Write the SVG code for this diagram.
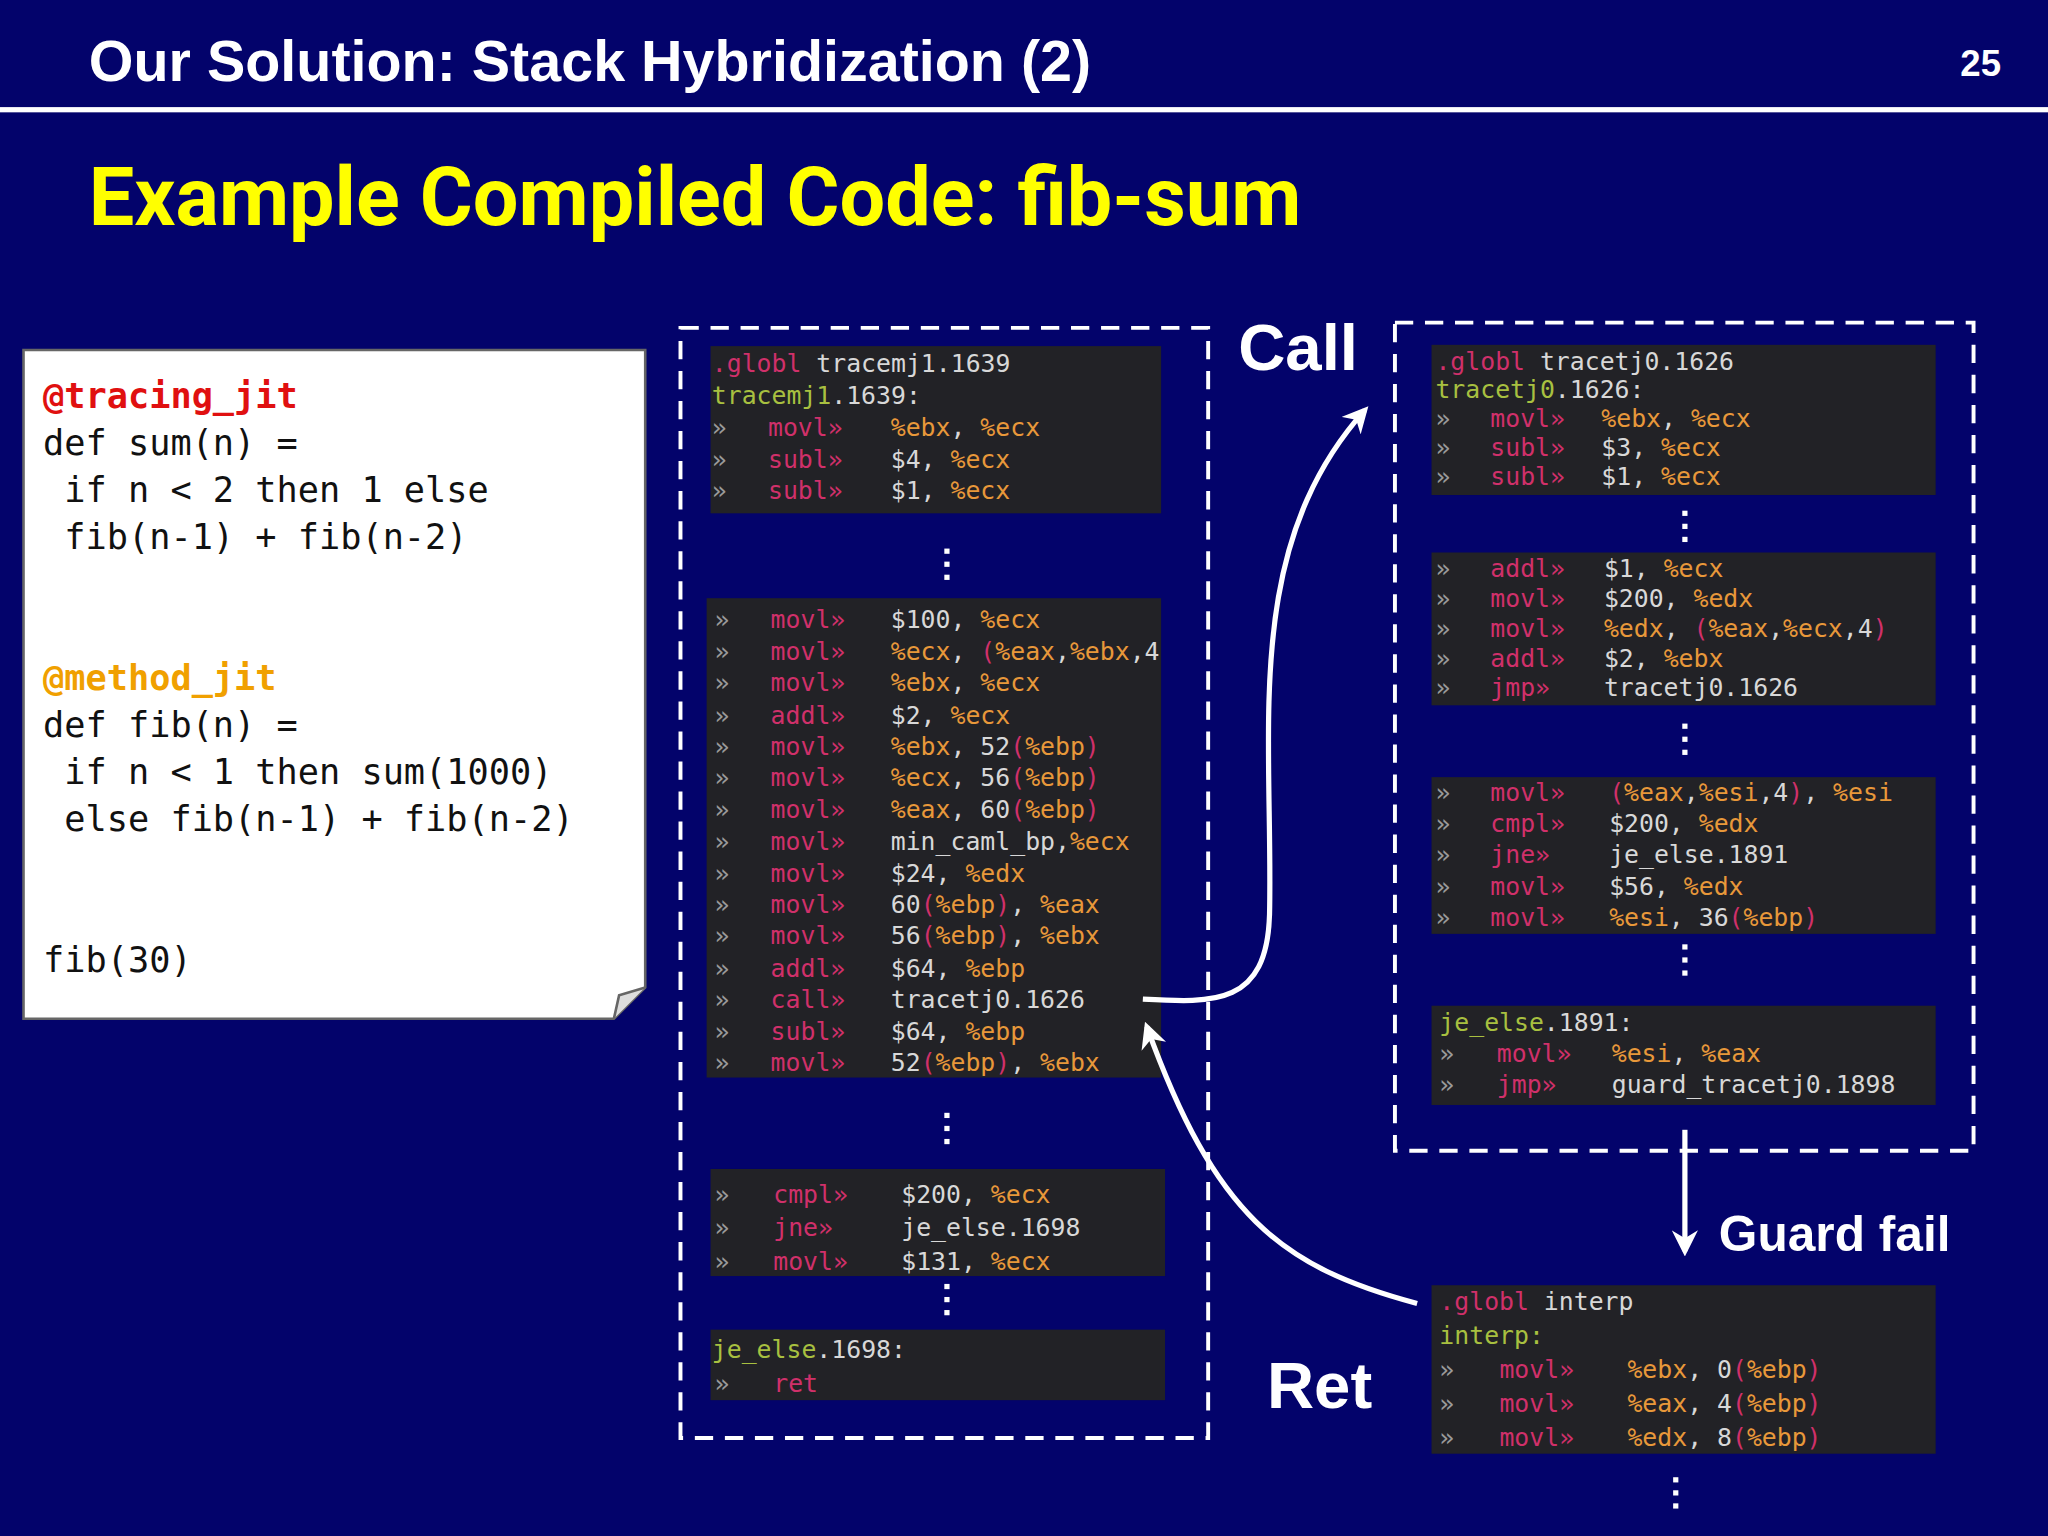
<svg xmlns="http://www.w3.org/2000/svg" width="2048" height="1536" viewBox="0 0 2048 1536">
<style>
.c{font-family:"DejaVu Sans Mono",monospace;font-size:19px;fill:#d8d8d8}
.m{fill:#d0306a}.r{fill:#e8983a}.l{fill:#a8c040}.g{fill:#9a9a9a}
.blk{fill:#222226}
.box{fill:none;stroke:#fff;stroke-width:3;stroke-dasharray:14 9}
.lab{font-family:"Liberation Sans",Arial,sans-serif;font-weight:bold;fill:#fff}
.dots{fill:#fff}
.lc{font-family:"DejaVu Sans Mono",monospace;font-size:27px;fill:#111}
.arr{fill:none;stroke:#fff;stroke-width:4}
</style>
<defs>
<marker id="ah" viewBox="0 0 10 10" refX="8" refY="5" markerWidth="5" markerHeight="5" orient="auto"><path d="M0,0L10,5L0,10L3,5z" fill="#fff"/></marker>
<g id="dd"><rect x="-2" y="-12" width="4" height="4"/><rect x="-2" y="-2" width="4" height="4"/><rect x="-2" y="8" width="4" height="4"/></g>
</defs>
<rect width="2048" height="1536" fill="#03036b"/>
<g transform="scale(1.30612)">
<g id="header">
<text x="68" y="62" class="lab" font-size="44" font-family="Roboto,sans-serif">Our Solution: Stack Hybridization (2)</text>
<text x="1532" y="58" class="lab" font-size="28" text-anchor="end">25</text>
<rect x="0" y="82" width="1568" height="4" fill="#fff"/>
<text x="68" y="172" font-family="Roboto,'Liberation Sans',sans-serif" font-weight="bold" font-size="62" fill="#ffff00">Example Compiled Code: fib-sum</text>
</g>
<g id="source">
<path d="M18,268H494V756L470,780H18Z" fill="#fff" stroke="#666" stroke-width="2"/>
<path d="M470,780L474,762L494,756" fill="#ddd" stroke="#666" stroke-width="2"/>
<text class="lc"><tspan x="33" y="312" fill="#e01010" font-weight="bold">@tracing_jit</tspan><tspan x="33" y="348">def sum(n) =</tspan><tspan x="33" y="384">  if n &lt; 2 then 1 else</tspan><tspan x="33" y="420">    fib(n-1) + fib(n-2)</tspan><tspan x="33" y="528" fill="#f0a000" font-weight="bold">@method_jit</tspan><tspan x="33" y="564">def fib(n) =</tspan><tspan x="33" y="600">  if n &lt; 1 then sum(1000)</tspan><tspan x="33" y="636">  else fib(n-1) + fib(n-2)</tspan><tspan x="33" y="744">fib(30)</tspan></text>
</g>
<g id="method">
<rect class="box" x="521" y="251" width="404" height="850"/>
<rect class="blk" x="544" y="265" width="345" height="128"/>
<text class="c"><tspan x="545" y="285"><tspan class="m">.globl</tspan> tracemj1.1639</tspan><tspan x="545" y="309"><tspan class="l">tracemj1</tspan>.1639:</tspan></text>
<text class="c"><tspan x="545" y="334" class="g">»</tspan><tspan x="588" class="m">movl»</tspan><tspan x="682" class="r">%ebx</tspan>, <tspan class="r">%ecx</tspan>
<tspan x="545" y="358" class="g">»</tspan><tspan x="588" class="m">subl»</tspan><tspan x="682">$4, </tspan><tspan class="r">%ecx</tspan>
<tspan x="545" y="382" class="g">»</tspan><tspan x="588" class="m">subl»</tspan><tspan x="682">$1, </tspan><tspan class="r">%ecx</tspan></text>
<use href="#dd" x="725" y="432" class="dots"/>
<rect class="blk" x="541" y="458" width="348" height="367"/>
<text class="c">
<tspan x="547" y="481" class="g">»</tspan><tspan x="590" class="m">movl»</tspan><tspan x="682">$100, </tspan><tspan class="r">%ecx</tspan>
<tspan x="547" y="505" class="g">»</tspan><tspan x="590" class="m">movl»</tspan><tspan x="682" class="r">%ecx</tspan>, <tspan class="m">(</tspan><tspan class="r">%eax</tspan>,<tspan class="r">%ebx</tspan>,4
<tspan x="547" y="529" class="g">»</tspan><tspan x="590" class="m">movl»</tspan><tspan x="682" class="r">%ebx</tspan>, <tspan class="r">%ecx</tspan>
<tspan x="547" y="554" class="g">»</tspan><tspan x="590" class="m">addl»</tspan><tspan x="682">$2, </tspan><tspan class="r">%ecx</tspan>
<tspan x="547" y="578" class="g">»</tspan><tspan x="590" class="m">movl»</tspan><tspan x="682" class="r">%ebx</tspan>, 52<tspan class="m">(</tspan><tspan class="r">%ebp</tspan><tspan class="m">)</tspan>
<tspan x="547" y="602" class="g">»</tspan><tspan x="590" class="m">movl»</tspan><tspan x="682" class="r">%ecx</tspan>, 56<tspan class="m">(</tspan><tspan class="r">%ebp</tspan><tspan class="m">)</tspan>
<tspan x="547" y="626" class="g">»</tspan><tspan x="590" class="m">movl»</tspan><tspan x="682" class="r">%eax</tspan>, 60<tspan class="m">(</tspan><tspan class="r">%ebp</tspan><tspan class="m">)</tspan>
<tspan x="547" y="651" class="g">»</tspan><tspan x="590" class="m">movl»</tspan><tspan x="682">min_caml_bp,</tspan><tspan class="r">%ecx</tspan>
<tspan x="547" y="675" class="g">»</tspan><tspan x="590" class="m">movl»</tspan><tspan x="682">$24, </tspan><tspan class="r">%edx</tspan>
<tspan x="547" y="699" class="g">»</tspan><tspan x="590" class="m">movl»</tspan><tspan x="682">60</tspan><tspan class="m">(</tspan><tspan class="r">%ebp</tspan><tspan class="m">)</tspan>, <tspan class="r">%eax</tspan>
<tspan x="547" y="723" class="g">»</tspan><tspan x="590" class="m">movl»</tspan><tspan x="682">56</tspan><tspan class="m">(</tspan><tspan class="r">%ebp</tspan><tspan class="m">)</tspan>, <tspan class="r">%ebx</tspan>
<tspan x="547" y="748" class="g">»</tspan><tspan x="590" class="m">addl»</tspan><tspan x="682">$64, </tspan><tspan class="r">%ebp</tspan>
<tspan x="547" y="772" class="g">»</tspan><tspan x="590" class="m">call»</tspan><tspan x="682">tracetj0.1626</tspan>
<tspan x="547" y="796" class="g">»</tspan><tspan x="590" class="m">subl»</tspan><tspan x="682">$64, </tspan><tspan class="r">%ebp</tspan>
<tspan x="547" y="820" class="g">»</tspan><tspan x="590" class="m">movl»</tspan><tspan x="682">52</tspan><tspan class="m">(</tspan><tspan class="r">%ebp</tspan><tspan class="m">)</tspan>, <tspan class="r">%ebx</tspan>
</text>
<use href="#dd" x="725" y="864" class="dots"/>
<rect class="blk" x="544" y="895" width="348" height="82"/>
<text class="c">
<tspan x="547" y="921" class="g">»</tspan><tspan x="592" class="m">cmpl»</tspan><tspan x="690">$200, </tspan><tspan class="r">%ecx</tspan>
<tspan x="547" y="946" class="g">»</tspan><tspan x="592" class="m">jne»</tspan><tspan x="690">je_else.1698</tspan>
<tspan x="547" y="972" class="g">»</tspan><tspan x="592" class="m">movl»</tspan><tspan x="690">$131, </tspan><tspan class="r">%ecx</tspan>
</text>
<use href="#dd" x="725" y="995" class="dots"/>
<rect class="blk" x="544" y="1018" width="348" height="54"/>
<text class="c"><tspan x="545" y="1040"><tspan class="l">je_else</tspan>.1698:</tspan><tspan x="547" y="1066" class="g">»</tspan><tspan x="592" class="m">ret</tspan></text>
</g>
<g id="trace">
<rect class="box" x="1068" y="247" width="443" height="634"/>
<rect class="blk" x="1096" y="264" width="386" height="115"/>
<text class="c">
<tspan x="1099" y="283"><tspan class="m">.globl</tspan> tracetj0.1626</tspan>
<tspan x="1099" y="305"><tspan class="l">tracetj0</tspan>.1626:</tspan>
<tspan x="1099" y="327" class="g">»</tspan><tspan x="1141" class="m">movl»</tspan><tspan x="1226" class="r">%ebx</tspan>, <tspan class="r">%ecx</tspan>
<tspan x="1099" y="349" class="g">»</tspan><tspan x="1141" class="m">subl»</tspan><tspan x="1226">$3, </tspan><tspan class="r">%ecx</tspan>
<tspan x="1099" y="371" class="g">»</tspan><tspan x="1141" class="m">subl»</tspan><tspan x="1226">$1, </tspan><tspan class="r">%ecx</tspan>
</text>
<use href="#dd" x="1290" y="403" class="dots"/>
<rect class="blk" x="1096" y="423" width="386" height="117"/>
<text class="c">
<tspan x="1099" y="442" class="g">»</tspan><tspan x="1141" class="m">addl»</tspan><tspan x="1228">$1, </tspan><tspan class="r">%ecx</tspan>
<tspan x="1099" y="465" class="g">»</tspan><tspan x="1141" class="m">movl»</tspan><tspan x="1228">$200, </tspan><tspan class="r">%edx</tspan>
<tspan x="1099" y="488" class="g">»</tspan><tspan x="1141" class="m">movl»</tspan><tspan x="1228" class="r">%edx</tspan>, <tspan class="m">(</tspan><tspan class="r">%eax</tspan>,<tspan class="r">%ecx</tspan>,4<tspan class="m">)</tspan>
<tspan x="1099" y="511" class="g">»</tspan><tspan x="1141" class="m">addl»</tspan><tspan x="1228">$2, </tspan><tspan class="r">%ebx</tspan>
<tspan x="1099" y="533" class="g">»</tspan><tspan x="1141" class="m">jmp»</tspan><tspan x="1228">tracetj0.1626</tspan>
</text>
<use href="#dd" x="1290" y="566" class="dots"/>
<rect class="blk" x="1096" y="595" width="386" height="120"/>
<text class="c">
<tspan x="1099" y="613" class="g">»</tspan><tspan x="1141" class="m">movl»</tspan><tspan x="1232" class="m">(</tspan><tspan class="r">%eax</tspan>,<tspan class="r">%esi</tspan>,4<tspan class="m">)</tspan>, <tspan class="r">%esi</tspan>
<tspan x="1099" y="637" class="g">»</tspan><tspan x="1141" class="m">cmpl»</tspan><tspan x="1232">$200, </tspan><tspan class="r">%edx</tspan>
<tspan x="1099" y="661" class="g">»</tspan><tspan x="1141" class="m">jne»</tspan><tspan x="1232">je_else.1891</tspan>
<tspan x="1099" y="685" class="g">»</tspan><tspan x="1141" class="m">movl»</tspan><tspan x="1232">$56, </tspan><tspan class="r">%edx</tspan>
<tspan x="1099" y="709" class="g">»</tspan><tspan x="1141" class="m">movl»</tspan><tspan x="1232" class="r">%esi</tspan>, 36<tspan class="m">(</tspan><tspan class="r">%ebp</tspan><tspan class="m">)</tspan>
</text>
<use href="#dd" x="1290" y="735" class="dots"/>
<rect class="blk" x="1096" y="770" width="386" height="76"/>
<text class="c">
<tspan x="1102" y="789"><tspan class="l">je_else</tspan>.1891:</tspan>
<tspan x="1102" y="813" class="g">»</tspan><tspan x="1146" class="m">movl»</tspan><tspan x="1234" class="r">%esi</tspan>, <tspan class="r">%eax</tspan>
<tspan x="1102" y="837" class="g">»</tspan><tspan x="1146" class="m">jmp»</tspan><tspan x="1234">guard_tracetj0.1898</tspan>
</text>
</g>
<g id="interp">
<rect class="blk" x="1096" y="984" width="386" height="129"/>
<text class="c">
<tspan x="1102" y="1003"><tspan class="m">.globl</tspan> interp</tspan>
<tspan x="1102" y="1029" class="l">interp:</tspan>
<tspan x="1102" y="1055" class="g">»</tspan><tspan x="1148" class="m">movl»</tspan><tspan x="1246" class="r">%ebx</tspan>, 0<tspan class="m">(</tspan><tspan class="r">%ebp</tspan><tspan class="m">)</tspan>
<tspan x="1102" y="1081" class="g">»</tspan><tspan x="1148" class="m">movl»</tspan><tspan x="1246" class="r">%eax</tspan>, 4<tspan class="m">(</tspan><tspan class="r">%ebp</tspan><tspan class="m">)</tspan>
<tspan x="1102" y="1107" class="g">»</tspan><tspan x="1148" class="m">movl»</tspan><tspan x="1246" class="r">%edx</tspan>, 8<tspan class="m">(</tspan><tspan class="r">%ebp</tspan><tspan class="m">)</tspan>
</text>
<use href="#dd" x="1283" y="1143" class="dots"/>
</g>
<g id="connectors">
<path class="arr" marker-end="url(#ah)" d="M875,765C930,768 970,770 972,700C975,560 950,420 1045,314"/>
<path class="arr" marker-end="url(#ah)" d="M1085,998C980,970 930,930 878,786"/>
<path class="arr" marker-end="url(#ah)" d="M1290,865V958"/>
</g>
<g id="labels">
<text x="948" y="283" class="lab" font-size="50">Call</text>
<text x="970" y="1078" class="lab" font-size="50">Ret</text>
<text x="1316" y="958" class="lab" font-size="38">Guard fail</text>
</g>
</g>
</svg>
